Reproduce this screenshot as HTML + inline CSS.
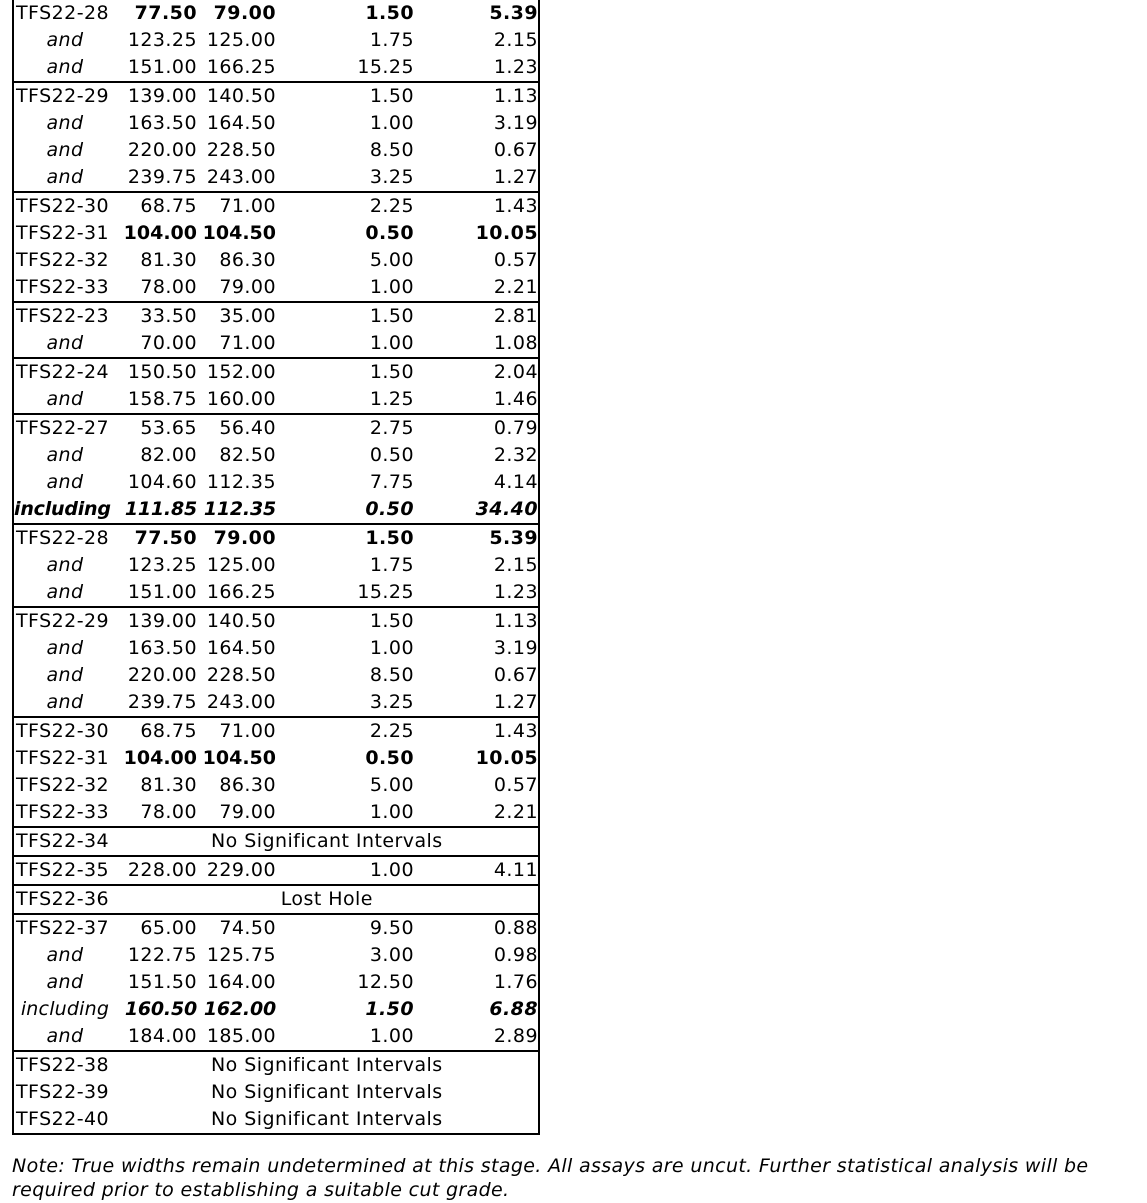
<!DOCTYPE html>
<html><head><meta charset="utf-8">
<style>
html,body{margin:0;padding:0;background:#fff;}
body{width:1147px;height:1203px;position:relative;overflow:hidden;font-family:"DejaVu Sans","Liberation Sans",sans-serif;font-size:19px;letter-spacing:0.45px;color:#000;}
#t{position:absolute;left:12px;top:0;width:524px;border-left:2px solid #000;border-right:2px solid #000;border-bottom:2px solid #000;}
.r{display:flex;height:27px;line-height:27px;white-space:nowrap;}
.g{border-top:2px solid #000;}
.r>div{overflow:visible;}
.c1{width:100px;padding-left:2px;}
.c1.a{text-align:center;font-style:italic;padding-left:0;width:102px;}
.c2{width:81px;padding-right:0px;text-align:right;}
.c3{width:79px;padding-right:1px;text-align:right;}
.c4{width:137px;padding-right:1px;text-align:right;}
.c5{width:123px;padding-right:0px;text-align:right;}
.sp{width:424px;text-align:center;}
.b{font-weight:bold;}
.bi{font-weight:bold;font-style:italic;}
#note{position:absolute;left:12px;top:1154px;font-style:italic;line-height:24px;font-size:19px;letter-spacing:0.35px;white-space:nowrap;}
</style></head><body>
<div id="t">
<div class="r b"><div class="c1" style="font-weight:normal">TFS22-28</div><div class="c2">77.50</div><div class="c3">79.00</div><div class="c4">1.50</div><div class="c5">5.39</div></div>
<div class="r"><div class="c1 a">and</div><div class="c2">123.25</div><div class="c3">125.00</div><div class="c4">1.75</div><div class="c5">2.15</div></div>
<div class="r"><div class="c1 a">and</div><div class="c2">151.00</div><div class="c3">166.25</div><div class="c4">15.25</div><div class="c5">1.23</div></div>
<div class="r g"><div class="c1">TFS22-29</div><div class="c2">139.00</div><div class="c3">140.50</div><div class="c4">1.50</div><div class="c5">1.13</div></div>
<div class="r"><div class="c1 a">and</div><div class="c2">163.50</div><div class="c3">164.50</div><div class="c4">1.00</div><div class="c5">3.19</div></div>
<div class="r"><div class="c1 a">and</div><div class="c2">220.00</div><div class="c3">228.50</div><div class="c4">8.50</div><div class="c5">0.67</div></div>
<div class="r"><div class="c1 a">and</div><div class="c2">239.75</div><div class="c3">243.00</div><div class="c4">3.25</div><div class="c5">1.27</div></div>
<div class="r g"><div class="c1">TFS22-30</div><div class="c2">68.75</div><div class="c3">71.00</div><div class="c4">2.25</div><div class="c5">1.43</div></div>
<div class="r b"><div class="c1" style="font-weight:normal">TFS22-31</div><div class="c2" style="letter-spacing:0">104.00</div><div class="c3" style="letter-spacing:0">104.50</div><div class="c4">0.50</div><div class="c5">10.05</div></div>
<div class="r"><div class="c1">TFS22-32</div><div class="c2">81.30</div><div class="c3">86.30</div><div class="c4">5.00</div><div class="c5">0.57</div></div>
<div class="r"><div class="c1">TFS22-33</div><div class="c2">78.00</div><div class="c3">79.00</div><div class="c4">1.00</div><div class="c5">2.21</div></div>
<div class="r g"><div class="c1">TFS22-23</div><div class="c2">33.50</div><div class="c3">35.00</div><div class="c4">1.50</div><div class="c5">2.81</div></div>
<div class="r"><div class="c1 a">and</div><div class="c2">70.00</div><div class="c3">71.00</div><div class="c4">1.00</div><div class="c5">1.08</div></div>
<div class="r g"><div class="c1">TFS22-24</div><div class="c2">150.50</div><div class="c3">152.00</div><div class="c4">1.50</div><div class="c5">2.04</div></div>
<div class="r"><div class="c1 a">and</div><div class="c2">158.75</div><div class="c3">160.00</div><div class="c4">1.25</div><div class="c5">1.46</div></div>
<div class="r g"><div class="c1">TFS22-27</div><div class="c2">53.65</div><div class="c3">56.40</div><div class="c4">2.75</div><div class="c5">0.79</div></div>
<div class="r"><div class="c1 a">and</div><div class="c2">82.00</div><div class="c3">82.50</div><div class="c4">0.50</div><div class="c5">2.32</div></div>
<div class="r"><div class="c1 a">and</div><div class="c2">104.60</div><div class="c3">112.35</div><div class="c4">7.75</div><div class="c5">4.14</div></div>
<div class="r bi"><div class="c1" style="padding-left:0;width:102px;letter-spacing:-0.2px">including</div><div class="c2" style="letter-spacing:-0.2px">111.85</div><div class="c3" style="letter-spacing:-0.2px">112.35</div><div class="c4">0.50</div><div class="c5">34.40</div></div>
<div class="r g b"><div class="c1" style="font-weight:normal">TFS22-28</div><div class="c2">77.50</div><div class="c3">79.00</div><div class="c4">1.50</div><div class="c5">5.39</div></div>
<div class="r"><div class="c1 a">and</div><div class="c2">123.25</div><div class="c3">125.00</div><div class="c4">1.75</div><div class="c5">2.15</div></div>
<div class="r"><div class="c1 a">and</div><div class="c2">151.00</div><div class="c3">166.25</div><div class="c4">15.25</div><div class="c5">1.23</div></div>
<div class="r g"><div class="c1">TFS22-29</div><div class="c2">139.00</div><div class="c3">140.50</div><div class="c4">1.50</div><div class="c5">1.13</div></div>
<div class="r"><div class="c1 a">and</div><div class="c2">163.50</div><div class="c3">164.50</div><div class="c4">1.00</div><div class="c5">3.19</div></div>
<div class="r"><div class="c1 a">and</div><div class="c2">220.00</div><div class="c3">228.50</div><div class="c4">8.50</div><div class="c5">0.67</div></div>
<div class="r"><div class="c1 a">and</div><div class="c2">239.75</div><div class="c3">243.00</div><div class="c4">3.25</div><div class="c5">1.27</div></div>
<div class="r g"><div class="c1">TFS22-30</div><div class="c2">68.75</div><div class="c3">71.00</div><div class="c4">2.25</div><div class="c5">1.43</div></div>
<div class="r b"><div class="c1" style="font-weight:normal">TFS22-31</div><div class="c2" style="letter-spacing:0">104.00</div><div class="c3" style="letter-spacing:0">104.50</div><div class="c4">0.50</div><div class="c5">10.05</div></div>
<div class="r"><div class="c1">TFS22-32</div><div class="c2">81.30</div><div class="c3">86.30</div><div class="c4">5.00</div><div class="c5">0.57</div></div>
<div class="r"><div class="c1">TFS22-33</div><div class="c2">78.00</div><div class="c3">79.00</div><div class="c4">1.00</div><div class="c5">2.21</div></div>
<div class="r g"><div class="c1">TFS22-34</div><div class="sp">No Significant Intervals</div></div>
<div class="r g"><div class="c1">TFS22-35</div><div class="c2">228.00</div><div class="c3">229.00</div><div class="c4">1.00</div><div class="c5">4.11</div></div>
<div class="r g"><div class="c1">TFS22-36</div><div class="sp">Lost Hole</div></div>
<div class="r g"><div class="c1">TFS22-37</div><div class="c2">65.00</div><div class="c3">74.50</div><div class="c4">9.50</div><div class="c5">0.88</div></div>
<div class="r"><div class="c1 a">and</div><div class="c2">122.75</div><div class="c3">125.75</div><div class="c4">3.00</div><div class="c5">0.98</div></div>
<div class="r"><div class="c1 a">and</div><div class="c2">151.50</div><div class="c3">164.00</div><div class="c4">12.50</div><div class="c5">1.76</div></div>
<div class="r"><div class="c1 a" style="letter-spacing:0.2px">including</div><div class="c2 bi" style="letter-spacing:-0.2px">160.50</div><div class="c3 bi" style="letter-spacing:-0.2px">162.00</div><div class="c4 bi">1.50</div><div class="c5 bi">6.88</div></div>
<div class="r"><div class="c1 a">and</div><div class="c2">184.00</div><div class="c3">185.00</div><div class="c4">1.00</div><div class="c5">2.89</div></div>
<div class="r g"><div class="c1">TFS22-38</div><div class="sp">No Significant Intervals</div></div>
<div class="r"><div class="c1">TFS22-39</div><div class="sp">No Significant Intervals</div></div>
<div class="r"><div class="c1">TFS22-40</div><div class="sp">No Significant Intervals</div></div>
</div>
<div id="note">Note: True widths remain undetermined at this stage. All assays are uncut. Further statistical analysis will be<br>required prior to establishing a suitable cut grade.</div>
</body></html>
